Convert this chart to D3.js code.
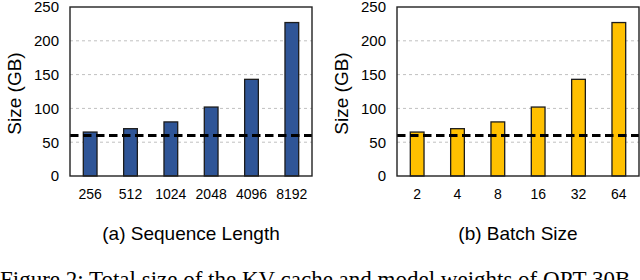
<!DOCTYPE html>
<html>
<head>
<meta charset="utf-8">
<script src="https://cdn.jsdelivr.net/npm/d3@7"></script>
<style>
  body { margin: 0; background: #fff; }
  svg { display: block; }
</style>
</head>
<body>
<div id="chart"></div>
<script>
// data
let seqLengths = ["256", "512", "1024", "2048", "4096", "8192"];
let batchSizes = ["2", "4", "8", "16", "32", "64"];
let sizeGB = [65, 70, 80, 102, 143, 227];      // same totals in both panels
let gpuMemLine = 60;                            // dashed reference line
let yTicks = [0, 50, 100, 150, 200, 250];

let svg = d3.select("#chart")
    .append("svg")
    .attr("width", 640)
    .attr("height", 280);

let plotTop = 7, plotBottom = 176, plotW = 242;

let y = d3.scaleLinear().domain([0, 250]).range([plotBottom, plotTop]);

function drawPanel(x0, cats, vals, fill, caption) {
    let x = d3.scaleBand().domain(cats).range([x0, x0 + plotW]).paddingInner(0.66).paddingOuter(0.33);
    let g = svg.append("g");

    // light dashed grid
    g.selectAll("line.grid")
        .data(yTicks.filter(t => t > 0 && t < 250))
        .enter().append("line")
        .attr("class", "grid")
        .attr("x1", x0).attr("x2", x0 + plotW)
        .attr("y1", d => y(d)).attr("y2", d => y(d))
        .attr("stroke", "#c0c0c0")
        .attr("stroke-width", 1)
        .attr("stroke-dasharray", "3,3");

    // bars
    g.selectAll("rect.bar")
        .data(vals)
        .enter().append("rect")
        .attr("class", "bar")
        .attr("x", (d, i) => x(cats[i]))
        .attr("y", d => y(d))
        .attr("width", x.bandwidth())
        .attr("height", d => y(0) - y(d))
        .attr("fill", fill)
        .attr("stroke", "#1c1c1c")
        .attr("stroke-width", 1.3);

    // dashed memory line
    g.append("line")
        .attr("x1", x0).attr("x2", x0 + plotW)
        .attr("y1", y(gpuMemLine)).attr("y2", y(gpuMemLine))
        .attr("stroke", "#000")
        .attr("stroke-width", 3)
        .attr("stroke-dasharray", "8.5,4.5");

    // frame
    g.append("rect")
        .attr("x", x0).attr("y", plotTop)
        .attr("width", plotW).attr("height", plotBottom - plotTop)
        .attr("fill", "none")
        .attr("stroke", "#222")
        .attr("stroke-width", 1.4);

    let yAxis = g.append("g")
        .attr("transform", "translate(" + x0 + ",0)")
        .call(d3.axisLeft(y).tickValues(yTicks).tickSize(0).tickPadding(11));
    yAxis.select(".domain").remove();
    yAxis.selectAll("text")
        .attr("font-family", "Liberation Sans, Arial, sans-serif")
        .attr("font-size", "15px")
        .attr("fill", "#000");

    let xAxis = g.append("g")
        .attr("transform", "translate(0," + plotBottom + ")")
        .call(d3.axisBottom(x).tickSize(0).tickPadding(13));
    xAxis.select(".domain").remove();
    xAxis.selectAll("text")
        .attr("font-family", "Liberation Sans, Arial, sans-serif")
        .attr("font-size", "14px")
        .attr("fill", "#000");

    g.append("text")
        .attr("transform", "translate(" + (x0 - 49) + "," + ((plotTop + plotBottom) / 2 + 2) + ") rotate(-90)")
        .attr("text-anchor", "middle")
        .attr("font-family", "Liberation Sans, Arial, sans-serif")
        .attr("font-size", "19px")
        .text("Size (GB)");

    g.append("text")
        .attr("x", x0 + plotW / 2)
        .attr("y", 240)
        .attr("text-anchor", "middle")
        .attr("font-family", "Liberation Sans, Arial, sans-serif")
        .attr("font-size", "19px")
        .text(caption);
}

drawPanel(70, seqLengths, sizeGB, "#2F5597", "(a) Sequence Length");
drawPanel(397, batchSizes, sizeGB, "#FFC000", "(b) Batch Size");

// figure caption, cut off by the bottom edge
svg.append("text")
    .attr("x", 0)
    .attr("y", 287)
    .attr("font-family", "Liberation Serif, Times New Roman, serif")
    .attr("font-size", "23px")
    .text("Figure 2: Total size of the KV cache and model weights of OPT-30B");
</script>
</body>
</html>
